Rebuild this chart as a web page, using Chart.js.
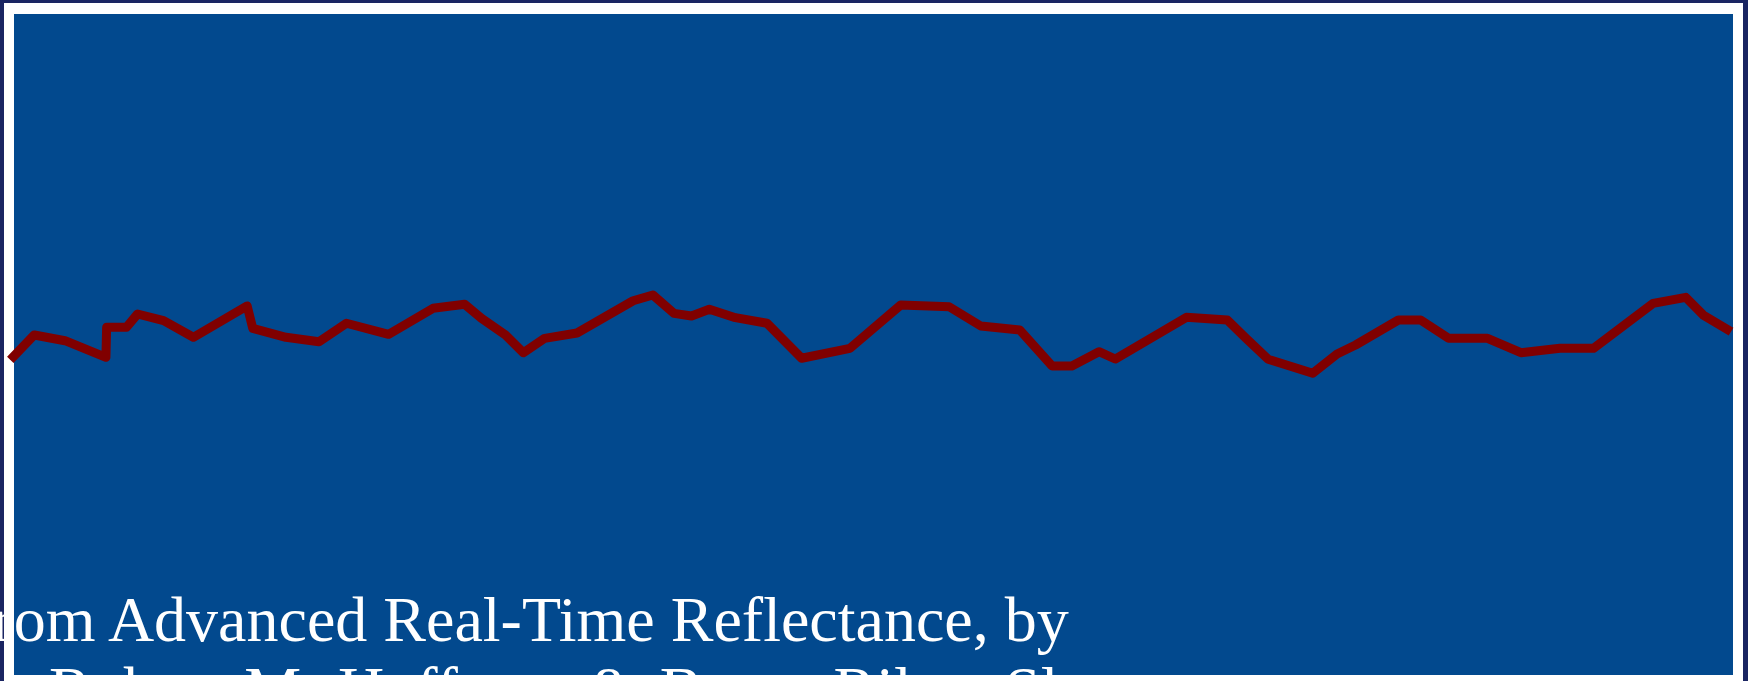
<!DOCTYPE html>
<html>
<head>
<meta charset="utf-8">
<title>Advanced Real-Time Reflectance</title>
<script src="https://cdn.jsdelivr.net/npm/chart.js@4.4.0/dist/chart.umd.min.js"></script>
<style>
    html, body {
        margin: 0;
        padding: 0;
        width: 1748px;
        height: 681px;
        overflow: hidden;
        background: #1a2562;
    }
    .frame {
        position: absolute;
        left: 4px;
        top: 3px;
        width: 1739px;
        height: 700px;
        background: #ffffff;
    }
    .panel {
        position: absolute;
        left: 14px;
        top: 14px;
        width: 1719px;
        height: 661px;
        background: #02498e;
    }
    #reflectanceChart {
        position: absolute;
        left: 0;
        top: 0;
    }
    .caption {
        position: absolute;
        white-space: nowrap;
        color: #ffffff;
        font-family: "Liberation Serif", "Times New Roman", serif;
        font-size: 64px;
        line-height: 77px;
    }
</style>
</head>
<body>
<div class="frame"></div>
<div class="panel"></div>
<canvas id="reflectanceChart" width="1748" height="681"></canvas>
<div class="caption" style="left:-29px; top:581px;">from Advanced Real-Time Reflectance, by</div>
<div class="caption" style="left:49px; top:651px; word-spacing:5px;">Robert M. Huffman &amp; Bruce Riley, Sl</div>

<script>
// sample position along the scan (0-100) and measured reflectance (%)
const scanPosition = [
    0.59, 1.96, 3.72, 6.06, 6.10, 7.23, 7.87, 9.36, 11.06, 14.14,
    14.46, 16.36, 18.25, 19.82, 22.23, 24.77, 26.58, 27.54, 28.92, 29.94,
    31.16, 33.01, 36.22, 37.35, 38.56, 39.56, 40.58, 42.07, 43.88, 45.86,
    48.62, 51.53, 54.30, 56.11, 58.34, 60.19, 61.32, 62.87, 63.80, 67.87,
    70.21, 71.28, 72.55, 75.10, 76.49, 77.55, 80.00, 81.27, 82.87, 85.10,
    87.01, 89.24, 91.16, 94.57, 96.44, 97.44, 99.03
];
const reflectance = [
    47.14, 50.81, 49.97, 47.53, 51.94, 51.94, 53.89, 52.91, 50.47, 55.07,
    51.79, 50.47, 49.82, 52.53, 50.91, 54.73, 55.32, 53.26, 50.81, 48.21,
    50.32, 51.10, 55.84, 56.68, 53.99, 53.60, 54.58, 53.35, 52.53, 47.39,
    48.85, 55.21, 54.96, 52.13, 51.54, 46.26, 46.26, 48.36, 47.28, 53.41,
    53.01, 50.32, 47.24, 45.18, 48.02, 49.34, 53.01, 53.01, 50.32, 50.32,
    48.21, 48.85, 48.85, 55.46, 56.34, 53.74, 51.29
];

const points = scanPosition.map((x, i) => ({ x: x, y: reflectance[i] }));

const ctx = document.getElementById('reflectanceChart').getContext('2d');
new Chart(ctx, {
    type: 'line',
    data: {
        datasets: [{
            label: 'Reflectance',
            data: points,
            borderColor: '#800000',
            borderWidth: 9,
            borderJoinStyle: 'round',
            borderCapStyle: 'butt',
            pointRadius: 0,
            tension: 0,
            fill: false
        }]
    },
    options: {
        responsive: false,
        devicePixelRatio: 1,
        animation: false,
        layout: { padding: 0 },
        plugins: {
            legend: { display: false },
            tooltip: { enabled: false }
        },
        scales: {
            x: {
                type: 'linear',
                display: false,
                min: 0,
                max: 100
            },
            y: {
                type: 'linear',
                display: false,
                min: 0,
                max: 100
            }
        }
    }
});
</script>
</body>
</html>
